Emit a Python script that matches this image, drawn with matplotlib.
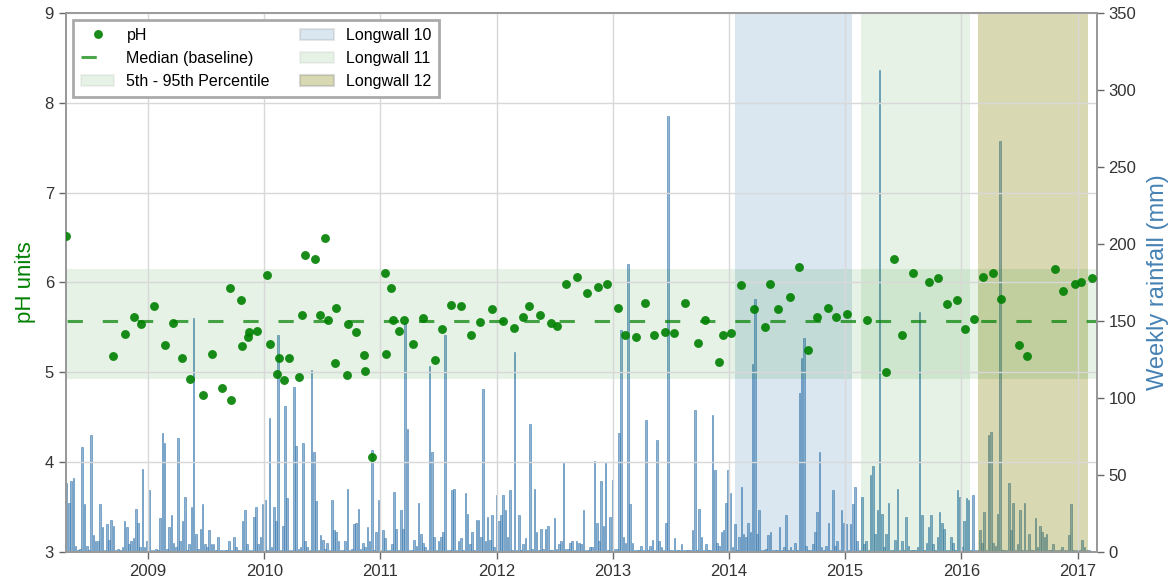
import numpy as np
import pandas as pd
import matplotlib
matplotlib.use('Agg')
import matplotlib.pyplot as plt
import matplotlib.dates as mdates

plt.rcParams['font.family'] = ['Liberation Sans', 'DejaVu Sans']

# pH samples
ph_dates = [
    '2008-04-19', '2008-09-14', '2008-10-20', '2008-11-16', '2008-12-08',
    '2009-01-19', '2009-02-23', '2009-03-19', '2009-04-17', '2009-05-13',
    '2009-06-22', '2009-07-20', '2009-08-21', '2009-09-15', '2009-09-18',
    '2009-10-20', '2009-10-23', '2009-11-10', '2009-11-14', '2009-12-09',
    '2010-01-10', '2010-01-19', '2010-02-09', '2010-02-16', '2010-03-05',
    '2010-03-19', '2010-04-20', '2010-04-29', '2010-05-09', '2010-06-09',
    '2010-06-25', '2010-07-12', '2010-07-20', '2010-08-12', '2010-08-15',
    '2010-09-18', '2010-09-22', '2010-10-17', '2010-11-10', '2010-11-15',
    '2010-12-06', '2011-01-14', '2011-01-18', '2011-02-04', '2011-02-10',
    '2011-03-02', '2011-03-17', '2011-04-14', '2011-05-16', '2011-06-23',
    '2011-07-13', '2011-08-11', '2011-09-12', '2011-10-12', '2011-11-10',
    '2011-12-19', '2012-01-20', '2012-02-26', '2012-03-24', '2012-04-12',
    '2012-05-17', '2012-06-21', '2012-07-10', '2012-08-08', '2012-09-10',
    '2012-10-10', '2012-11-14', '2012-12-12', '2013-01-17', '2013-02-07',
    '2013-03-13', '2013-04-11', '2013-05-09', '2013-06-15', '2013-07-11',
    '2013-08-15', '2013-09-25', '2013-10-16', '2013-11-29', '2013-12-12',
    '2014-01-08', '2014-02-06', '2014-03-19', '2014-04-23', '2014-05-10',
    '2014-06-05', '2014-07-10', '2014-08-09', '2014-09-06', '2014-10-03',
    '2014-11-07', '2014-12-04', '2015-01-08', '2015-03-12', '2015-05-09',
    '2015-06-03', '2015-06-30', '2015-08-01', '2015-09-22', '2015-10-20',
    '2015-11-18', '2015-12-19', '2016-01-14', '2016-02-11', '2016-03-10',
    '2016-04-09', '2016-05-05', '2016-06-30', '2016-07-27', '2016-10-20',
    '2016-11-17', '2016-12-22', '2017-01-10', '2017-02-16',
]
ph_values = [
    6.52, 5.18, 5.43, 5.62, 5.54,
    5.74, 5.30, 5.55, 5.16, 4.93,
    4.75, 5.20, 4.82, 5.94, 4.69,
    5.80, 5.29, 5.39, 5.45, 5.46,
    6.08, 5.32, 4.98, 5.16, 4.91,
    5.16, 4.95, 5.64, 6.31, 6.26,
    5.64, 6.50, 5.58, 5.10, 5.72,
    4.97, 5.54, 5.45, 5.19, 5.02,
    4.06, 6.10, 5.20, 5.94, 5.58,
    5.46, 5.58, 5.32, 5.60, 5.14,
    5.48, 5.75, 5.74, 5.41, 5.56,
    5.71, 5.57, 5.49, 5.62, 5.74,
    5.64, 5.55, 5.52, 5.98, 6.06,
    5.88, 5.95, 5.98, 5.72, 5.42,
    5.39, 5.77, 5.41, 5.45, 5.44,
    5.77, 5.33, 5.58, 5.12, 5.42,
    5.44, 5.97, 5.71, 5.50, 5.98,
    5.71, 5.84, 6.17, 5.25, 5.61,
    5.72, 5.61, 5.65, 5.58, 5.00,
    6.26, 5.42, 6.10, 6.01, 6.05,
    5.76, 5.80, 5.48, 5.59, 6.06,
    6.10, 5.82, 5.30, 5.18, 6.15,
    5.91, 5.98, 6.01, 6.05,
]

ph_median = 5.57
ph_p5 = 4.93
ph_p95 = 6.15

# weekly rainfall (mm), weeks starting 2008-04-20
rain_start = '2008-04-20'
rain_mm = [
    45, 32, 46, 48, 4, 1, 2, 68, 31, 4, 1, 76, 11, 7, 7, 31, 16, 1, 18, 8,
    21, 17, 1, 2, 1, 3, 20, 16, 5, 7, 9, 28, 19, 3, 54, 3, 7, 40, 1, 1,
    2, 1, 22, 77, 71, 2, 16, 24, 6, 3, 74, 7, 20, 36, 1, 5, 29, 152, 12, 2,
    15, 31, 5, 3, 14, 5, 5, 1, 10, 1, 1, 1, 1, 7, 1, 10, 3, 1, 1, 20,
    27, 5, 1, 1, 23, 29, 5, 10, 31, 34, 1, 87, 3, 29, 20, 141, 1, 17, 95, 35,
    1, 1, 107, 69, 2, 3, 71, 7, 3, 1, 118, 65, 33, 1, 11, 8, 2, 6, 1, 34,
    14, 13, 7, 1, 1, 7, 41, 1, 2, 18, 19, 28, 2, 6, 3, 16, 7, 66, 1, 13,
    34, 1, 14, 9, 1, 1, 5, 39, 15, 1, 27, 15, 149, 80, 1, 1, 8, 4, 32, 12,
    6, 3, 1, 121, 65, 10, 1, 7, 10, 13, 141, 1, 1, 40, 41, 1, 7, 9, 1, 38,
    25, 5, 13, 1, 21, 21, 10, 106, 7, 23, 8, 24, 3, 37, 20, 24, 37, 27, 10, 40,
    1, 130, 1, 24, 1, 5, 9, 1, 83, 2, 41, 13, 1, 15, 2, 15, 17, 1, 1, 22,
    2, 5, 7, 58, 2, 2, 6, 7, 1, 7, 6, 5, 27, 1, 1, 3, 3, 59, 19, 7,
    46, 17, 58, 1, 23, 47, 2, 2, 77, 144, 10, 6, 187, 31, 6, 1, 1, 1, 4, 1,
    86, 1, 4, 8, 1, 73, 7, 3, 1, 19, 283, 1, 1, 9, 1, 1, 5, 1, 1, 1,
    1, 14, 92, 1, 28, 10, 1, 5, 1, 1, 89, 53, 6, 4, 13, 14, 32, 53, 38, 3,
    18, 1, 10, 42, 12, 10, 19, 13, 122, 164, 12, 27, 1, 1, 2, 11, 13, 1, 1, 1,
    16, 1, 3, 24, 1, 3, 1, 6, 1, 103, 126, 139, 4, 1, 1, 5, 13, 26, 65, 3,
    1, 4, 19, 1, 40, 4, 7, 1, 27, 19, 18, 1, 18, 31, 42, 7, 1, 36, 5, 7,
    1, 50, 56, 12, 27, 313, 25, 3, 12, 32, 1, 1, 8, 41, 1, 7, 1, 23, 4, 1,
    1, 1, 3, 156, 24, 1, 6, 16, 24, 5, 1, 10, 26, 19, 15, 1, 1, 10, 6, 1,
    40, 36, 3, 20, 35, 34, 1, 37, 1, 1, 14, 6, 26, 1, 76, 78, 6, 4, 25, 267,
    1, 1, 1, 45, 14, 32, 1, 5, 27, 1, 32, 1, 12, 1, 1, 22, 3, 17, 13, 10,
    12, 1, 1, 5, 1, 1, 1, 3, 1, 1, 11, 31, 1, 1, 1, 1, 8, 3, 1, 1,
]

longwall_names = ['Longwall 10', 'Longwall 11', 'Longwall 12']
longwall_start = ['2014-01-19', '2015-02-20', '2016-02-23']
longwall_end = ['2015-01-21', '2016-01-29', '2017-02-03']
longwall_colors = ['steelblue', 'green', 'olive']
longwall_alpha = [0.2, 0.1, 0.3]

ph_dt = pd.to_datetime(ph_dates)
rain_dt = pd.date_range(rain_start, periods=len(rain_mm), freq='7D')

fig = plt.figure(figsize=(11.74, 5.86), dpi=100)
ax1 = fig.add_axes([0.056, 0.058, 0.878, 0.92])
ax2 = ax1.twinx()

# rainfall goes underneath the pH axes
ax2.bar(rain_dt, rain_mm, width=5.0, color='steelblue', alpha=0.6,
        edgecolor='steelblue', linewidth=0.7, zorder=1)
ax1.set_zorder(ax2.get_zorder() + 1)
ax1.patch.set_visible(False)

spans = []
for name, s, e, c, a in zip(longwall_names, longwall_start, longwall_end,
                            longwall_colors, longwall_alpha):
    spans.append(ax1.axvspan(pd.Timestamp(s), pd.Timestamp(e), facecolor=c,
                             alpha=a, linewidth=0, label=name, zorder=0))

band = ax1.axhspan(ph_p5, ph_p95, facecolor='green', alpha=0.1, linewidth=0,
                   label='5th - 95th Percentile', zorder=0)
med, = ax1.plot([pd.Timestamp('2008-01-01'), pd.Timestamp('2018-01-01')],
                [ph_median, ph_median], color='green', alpha=0.7, lw=2.2,
                ls=(0, (5, 6.5)), label='Median (baseline)', zorder=2)
pts, = ax1.plot(ph_dt, ph_values, 'o', color='green', alpha=0.9, ms=6.4,
                mew=0, label='pH', zorder=3)

xmin, xmax = pd.Timestamp('2008-04-17'), pd.Timestamp('2017-03-01')
ax1.set_xlim(xmin, xmax)
ax1.set_ylim(3, 9)
ax2.set_ylim(0, 350)
ax2.set_yticks(np.arange(0, 351, 50))

ax1.xaxis.set_major_locator(mdates.YearLocator())
ax1.xaxis.set_major_formatter(mdates.DateFormatter('%Y'))

ax1.grid(True, color='#d8d8d8', lw=1, zorder=0)
ax1.set_axisbelow(True)
ax2.grid(False)

for ax in (ax1, ax2):
    for sp in ax.spines.values():
        sp.set_color('#999999')
        sp.set_linewidth(1.3)
    ax.tick_params(colors='#333333', labelsize=12, length=5, width=1,
                   direction='out')
    ax.tick_params(axis='both', color='#666666')

ax1.set_ylabel('pH units', color='green', fontsize=16, labelpad=6)
ax2.set_ylabel('Weekly rainfall (mm)', color='steelblue', fontsize=17,
               labelpad=8)

handles = [pts, med, band] + spans
leg = ax1.legend(handles=handles, loc='upper left', ncol=2, fontsize=11.5,
                 frameon=True, fancybox=False, borderaxespad=0.45,
                 columnspacing=1.9, handlelength=2.1, borderpad=0.5,
                 labelspacing=0.5, handletextpad=0.75)
leg.get_frame().set_edgecolor('#aaaaaa')
leg.get_frame().set_linewidth(2)
leg.get_frame().set_alpha(1)
leg.legend_handles[1].set_linestyle((0, (5, 12)))
for h in leg.legend_handles[2:]:
    h.set_edgecolor('#888888')
    h.set_linewidth(1.5)

fig.savefig('out.png', dpi=100, facecolor='white')
